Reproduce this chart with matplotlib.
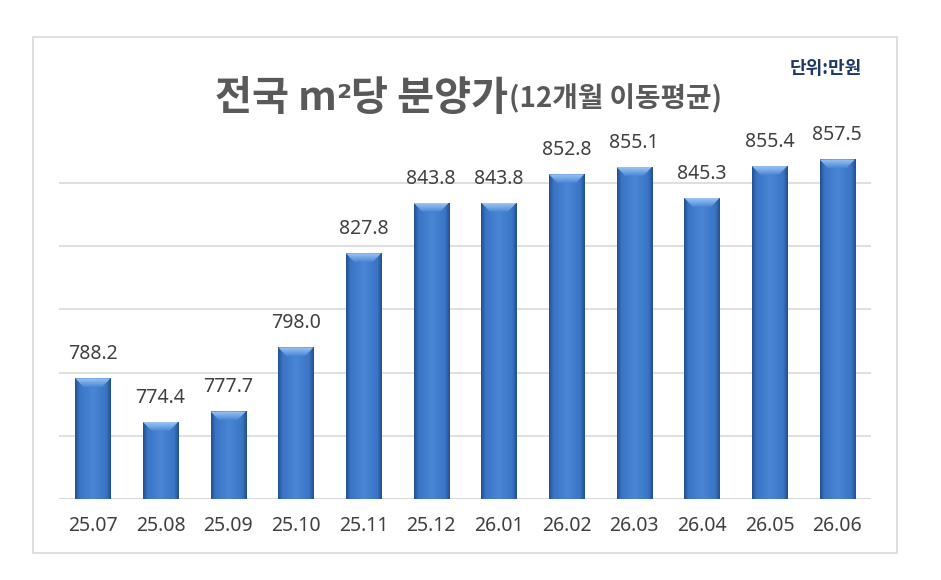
import numpy as np
import matplotlib
matplotlib.use("Agg")
import matplotlib.pyplot as plt
from matplotlib.patches import Rectangle, Polygon
from matplotlib.colors import LinearSegmentedColormap

months = ["25.07", "25.08", "25.09", "25.10", "25.11", "25.12",
          "26.01", "26.02", "26.03", "26.04", "26.05", "26.06"]
prices = [788.2, 774.4, 777.7, 798.0, 827.8, 843.8,
          843.8, 852.8, 855.1, 845.3, 855.4, 857.5]
y_min, y_max = 750, 870
grid_values = [770, 790, 810, 830, 850]

title_parts = ["전국 m", "²", "당 분양가"]
title_sub = "(12개월 이동평균)"
unit_text = "단위:만원"

plt.rcParams["font.family"] = ["Noto Sans CJK KR", "DejaVu Sans"]

fig = plt.figure(figsize=(9.41, 5.8), dpi=100)
fig.patch.set_facecolor("white")
fig.patches.append(Rectangle((0.035, 0.047), 0.918, 0.89, transform=fig.transFigure,
                             fill=False, edgecolor="#D9D9D9", linewidth=1.2))

ax = fig.add_axes([0.0627, 0.1397, 0.863, 0.6534])
x = np.arange(len(months))
bars = ax.bar(x, [p - y_min for p in prices], bottom=y_min, width=0.52,
              color="#3D78CA", edgecolor="#2A5596", linewidth=0.6, zorder=3)

# cylinder-like shading for each bar
cmap = LinearSegmentedColormap.from_list(
    "barshade", [(0, "#22508F"), (0.12, "#3A74C4"), (0.5, "#4A86D6"),
                 (0.88, "#3A74C4"), (1, "#22508F")])
grad = np.linspace(0, 1, 64).reshape(1, -1)
bev_cmap = LinearSegmentedColormap.from_list("bev", ["#4A86D6", "#9CC6F5"])
bev_grad = np.linspace(0, 1, 32).reshape(-1, 1)
for b in bars:
    x0, w = b.get_x(), b.get_width()
    top = b.get_y() + b.get_height()
    im = ax.imshow(grad, extent=(x0, x0 + w, y_min, top), cmap=cmap,
                   aspect="auto", zorder=4)
    im.set_clip_path(b)
    bev = 2.8
    inset = w * 0.24
    poly = Polygon([(x0, top), (x0 + w, top), (x0 + w - inset, top - bev),
                    (x0 + inset, top - bev)], closed=True,
                   facecolor="none", edgecolor="none", zorder=5)
    ax.add_patch(poly)
    bim = ax.imshow(bev_grad, extent=(x0, x0 + w, top - bev, top), cmap=bev_cmap,
                    origin="lower", aspect="auto", zorder=5)
    bim.set_clip_path(poly)
    ax.text(x0 + w / 2, top + 4.5, f"{top:.1f}", ha="center", va="bottom",
            fontsize=14, color="#404040", family=["Noto Sans", "DejaVu Sans"])

ax.set_xlim(-0.5, len(months) - 0.5)
ax.set_ylim(y_min, y_max)
for g in grid_values:
    ax.axhline(g, color="#D9D9D9", linewidth=1.2, zorder=1)
ax.axhline(y_min, color="#D9D9D9", linewidth=1.5, zorder=2)

ax.set_xticks(x)
ax.set_xticklabels(months, fontsize=14, color="#404040", family=["Noto Sans", "DejaVu Sans"])
ax.tick_params(axis="x", length=0, pad=12)
ax.set_yticks([])
for s in ax.spines.values():
    s.set_visible(False)

# title pieces laid out one after another
fig.canvas.draw()
xpos = 215 / 941
base = 1 - 110 / 580
for part in title_parts:
    if part == "²":
        t = fig.text(xpos - 0.001, base, part, fontsize=25, fontweight="bold",
                     color="#595959", ha="left", va="baseline", family=["DejaVu Sans"])
    else:
        t = fig.text(xpos, base, part, fontsize=29, fontweight="bold",
                     color="#595959", ha="left", va="baseline")
    fig.canvas.draw()
    xpos = t.get_window_extent().x1 / fig.bbox.width
fig.text(xpos + 0.001, 1 - 107 / 580, title_sub, fontsize=20,
         fontweight="bold", color="#595959", ha="left", va="baseline")

fig.text(862 / 941, 1 - 68 / 580, unit_text, fontsize=13, fontweight="bold",
         color="#1F3864", ha="right", va="center")

fig.savefig("out.png", dpi=100)
